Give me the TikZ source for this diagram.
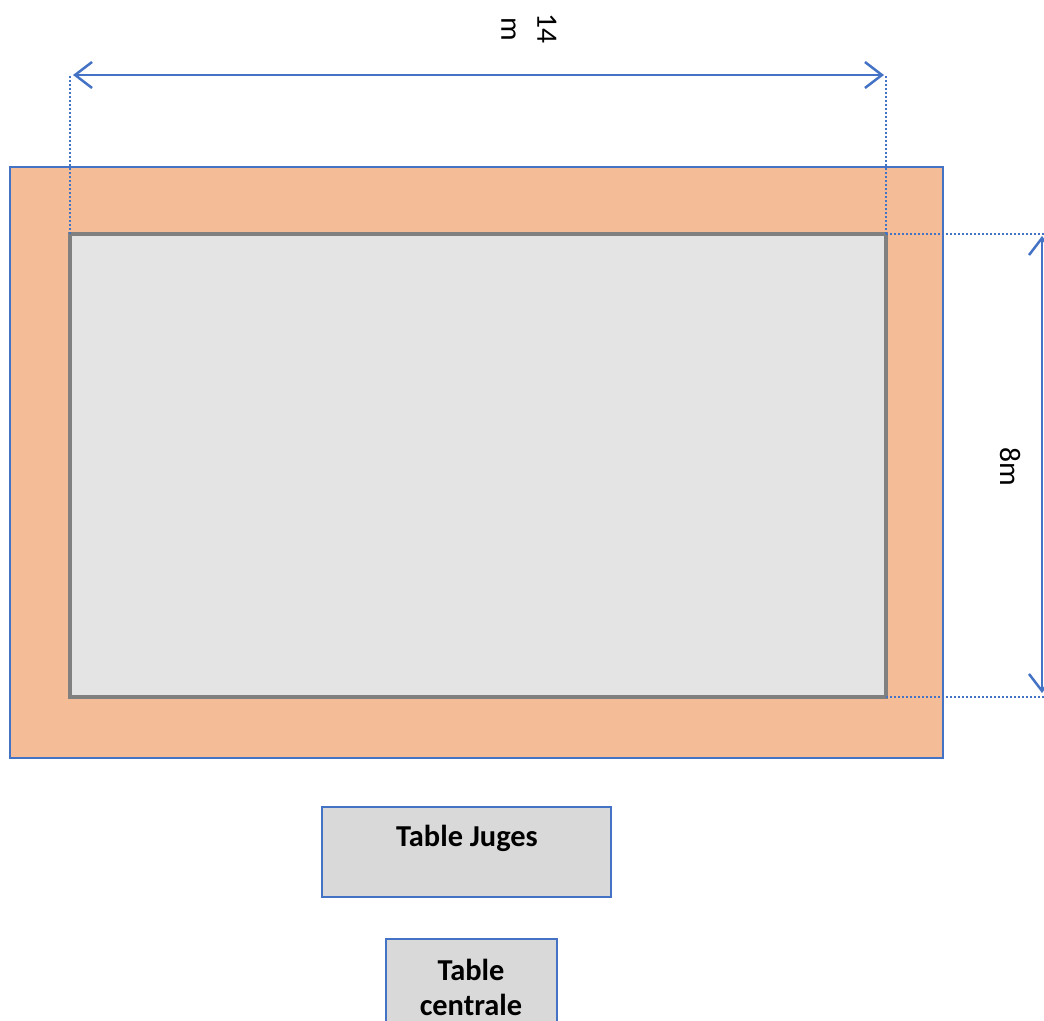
\documentclass[tikz,border=0pt]{standalone}
\usepackage{fontspec}
\setmainfont{Carlito}
\usetikzlibrary{arrows.meta,positioning}
\definecolor{tapis}{HTML}{F5BD97}
\definecolor{aire}{HTML}{E4E4E4}
\definecolor{bord}{HTML}{4472C4}
\definecolor{table}{HTML}{D9D9D9}
\tikzset{
  cote/.style={draw=bord,line width=1.25pt,{Straight Barb[length=8.5pt,width=13pt]}-{Straight Barb[length=8.5pt,width=13pt]}},
  rappel/.style={draw=bord,line width=0.7pt,dash pattern=on 1pt off 1pt},
  tablebox/.style={draw=bord,fill=table,line width=0.6pt},
  tabletext/.style={font=\bfseries\fontsize{15.2}{17.5}\selectfont,align=center},
  mesure/.style={font=\fontsize{14.8}{18}\selectfont,rotate=-90,align=center}
}
\begin{document}
\begin{tikzpicture}[x=0.5pt,y=-0.5pt]
  \useasboundingbox (0,0) rectangle (1044,1021);
  \clip (0,0) rectangle (1044,1021);

  % tapis et aire de combat
  \draw[bord,fill=tapis,line width=0.6pt] (10,167) rectangle (943,758);
  \draw[fill=aire,draw=black!50,line width=1.6pt] (70,234) coordinate (aNW) rectangle (886,697) coordinate (aSE);

  % cote 14 m
  \coordinate (hautG) at (73,75);
  \coordinate (hautD) at (884,75);
  \draw[rappel] (aNW) -- (aNW |- hautG);
  \draw[rappel] (aSE |- aNW) -- (aSE |- hautD);
  \draw[cote] (hautG) -- (hautD);
  \node[mesure] (long) at (529,29) {14\\m};

  % cote 8 m
  \coordinate (droitH) at (1042,236);
  \coordinate (droitB) at (1042,693);
  \draw[rappel] (aSE |- aNW) -- (1044,234);
  \draw[rappel] (aSE) -- (1044,697);
  \draw[cote] (droitH) -- (droitB);
  \node[mesure] (larg) at (1010,467) {8m};

  % tables
  \draw[tablebox] (322,807) rectangle (611,897);
  \node[tabletext] (juges) at (467,838) {Table Juges};
  \draw[tablebox] (386,939) rectangle (557,1040);
  \node[tabletext] (centrale) at (471,987) {Table\\centrale};
\end{tikzpicture}
\end{document}
